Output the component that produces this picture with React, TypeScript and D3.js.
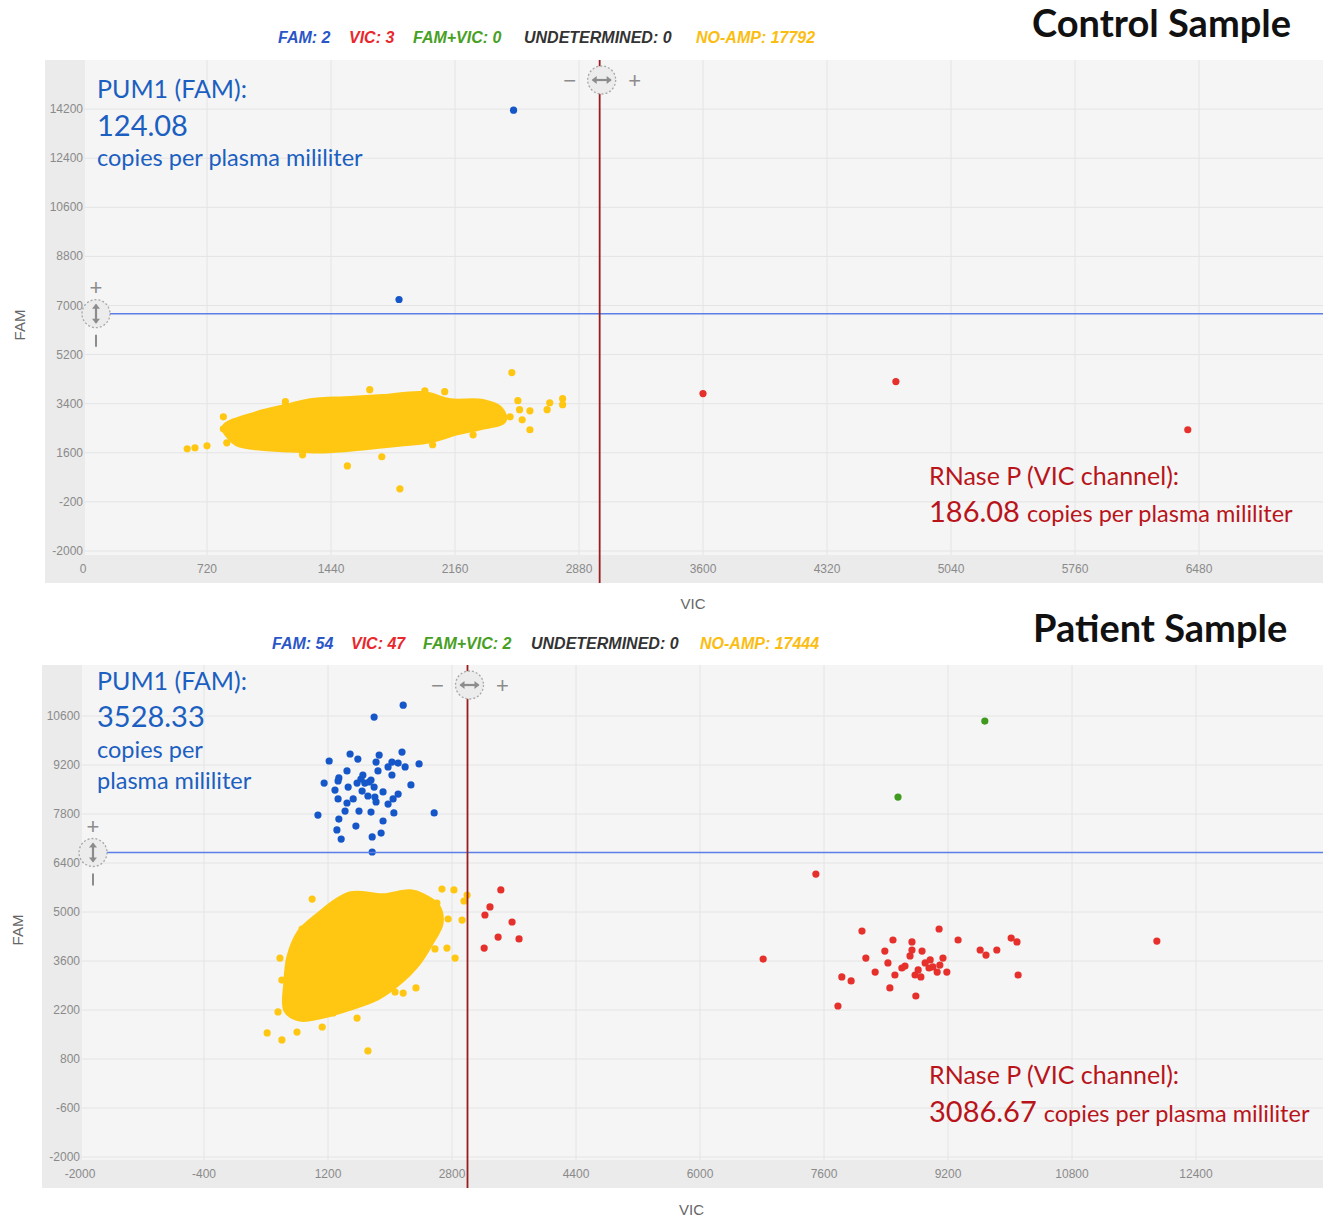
import { useEffect, useRef } from "react";
import * as d3 from "d3";

// ---- data (VIC, FAM) ----
const TOP_X_TICKS = [0, 720, 1440, 2160, 2880, 3600, 4320, 5040, 5760, 6480];
const TOP_Y_TICKS = [-2000, -200, 1600, 3400, 5200, 7000, 8800, 10600, 12400, 14200];
const BOT_X_TICKS = [-2000, -400, 1200, 2800, 4400, 6000, 7600, 9200, 10800, 12400];
const BOT_Y_TICKS = [-2000, -600, 800, 2200, 3600, 5000, 6400, 7800, 9200, 10600];

const TOP_COUNTS = [
  { label: "FAM: 2", key: "fam" },
  { label: "VIC: 3", key: "vic" },
  { label: "FAM+VIC: 0", key: "both" },
  { label: "UNDETERMINED: 0", key: "und" },
  { label: "NO-AMP: 17792", key: "noamp" },
];
const BOT_COUNTS = [
  { label: "FAM: 54", key: "fam" },
  { label: "VIC: 47", key: "vic" },
  { label: "FAM+VIC: 2", key: "both" },
  { label: "UNDETERMINED: 0", key: "und" },
  { label: "NO-AMP: 17444", key: "noamp" },
];

// dense no-amp cloud, traced as its outline of droplet centres
const TOP_NOAMP_OUTLINE: [number, number][] = [
  [825, 2520], [1010, 3000], [1200, 3290], [1320, 3470], [1550, 3550], [1740, 3620],
  [1975, 3730], [2130, 3470], [2320, 3440], [2420, 3180], [2440, 2810], [2305, 2555],
  [2170, 2370], [2015, 2080], [1860, 1970], [1625, 1820], [1395, 1710], [1200, 1745],
  [1010, 1820], [895, 1970], [855, 2190],
];
const TOP_NOAMP_POINTS: [number, number][] = [
  [605, 1745], [650, 1785], [720, 1855], [815, 2920], [815, 2480], [835, 1965],
  [1175, 3475], [1175, 3325], [1665, 3915], [1985, 3875], [2100, 3840], [2490, 4540],
  [2525, 3510], [2535, 3180], [2550, 2810], [2595, 3140], [2595, 2445], [2695, 3180],
  [2710, 3435], [2785, 3585], [2785, 3365], [1535, 1120], [1735, 1455], [1840, 280],
  [1275, 1525], [2030, 1895], [2265, 2260], [2480, 2920], [2410, 2700],
];
const TOP_FAM: [number, number][] = [[2500, 14160], [1835, 7220]];
const TOP_VIC: [number, number][] = [[3600, 3770], [4720, 4210], [6415, 2445]];
const TOP_BOTH: [number, number][] = [];

const BOT_NOAMP_OUTLINE: [number, number][] = [
  [1060, 4855], [1485, 5485], [1910, 5430], [2260, 5545], [2425, 5430], [2605, 5145],
  [2645, 4685], [2515, 4115], [2350, 3545], [2090, 2970], [1830, 2570], [1485, 2285],
  [1135, 2055], [840, 1970], [670, 2200], [670, 2970], [710, 3715], [840, 4400],
];
const BOT_NOAMP_POINTS: [number, number][] = [
  [415, 1545], [605, 1345], [800, 1570], [1715, 1030], [1575, 1970], [995, 5370],
  [2670, 5655], [2825, 5630], [2995, 5485], [2955, 5315], [2930, 4770], [2750, 4800],
  [2840, 3685], [2735, 3970], [2580, 3945], [2335, 2830], [2170, 2685], [2065, 2715],
  [605, 3055], [580, 3685], [865, 4515], [555, 2145], [1125, 1715], [1265, 2115],
  [2475, 4970], [2605, 5255],
];
const BOT_FAM: [number, number][] = [
  [2170, 10910], [1795, 10570], [1485, 9515], [1215, 9315], [1585, 9370], [1860, 9485],
  [2155, 9570], [1820, 9285], [2025, 9285], [2105, 9255], [2195, 9145], [2375, 9230],
  [1975, 9145], [1845, 9030], [1445, 9030], [2025, 8915], [1340, 8830], [1330, 8745],
  [1150, 8685], [1625, 8800], [1755, 8770], [1575, 8685], [1675, 8685], [1460, 8570],
  [1795, 8570], [2270, 8630], [1640, 8455], [1715, 8315], [1805, 8285], [2105, 8370],
  [2040, 8230], [1330, 8230], [1525, 8230], [1445, 8115], [1820, 8145], [1975, 8085],
  [1420, 7885], [1600, 7885], [1755, 7855], [2050, 7830], [1070, 7770], [2570, 7830],
  [1340, 7655], [1910, 7600], [1560, 7455], [1315, 7345], [1885, 7255], [1370, 7085],
  [1770, 7145], [1770, 6715], [1730, 8715], [1650, 8915], [1910, 8430], [1290, 8485],
];
const BOT_VIC: [number, number][] = [
  [3430, 5630], [3290, 5145], [3225, 4915], [3395, 4285], [3575, 4715], [3665, 4230],
  [3215, 3970], [7495, 6085], [6815, 3655], [11895, 4170],
  [8090, 4455], [7780, 2315], [7830, 3145], [7950, 3030], [8140, 3685], [8260, 3285],
  [8425, 3545], [8385, 3885], [8450, 2830], [8490, 4200], [8735, 4145], [8785, 2600],
  [8815, 3345], [8850, 3145], [8645, 3455], [8710, 3745], [8865, 3885], [8905, 3545],
  [8970, 3630], [9005, 3430], [9060, 3285], [9085, 4515], [9135, 3685], [9185, 3285],
  [9330, 4200], [9615, 3915], [9690, 3770], [9830, 3915], [10015, 4255], [10090, 4145],
  [10105, 3200], [8775, 3200], [8955, 3400], [8605, 3400], [9095, 3485], [8735, 3915],
  [8515, 3200],
];
const BOT_BOTH: [number, number][] = [[9675, 10455], [8555, 8285]];

const TOP_THRESHOLD = { vic: 3000, fam: 6700 };
const BOT_THRESHOLD = { vic: 3000, fam: 6700 };

// ---- look ----
const COLORS = {
  fam: "#1556c9",
  vic: "#e5302c",
  both: "#3f9a1e",
  noamp: "#ffc712",
  famText: "#1b5fc0",
  vicText: "#b8141a",
  plotBg: "#f5f5f5",
  axisBg: "#ebebeb",
  grid: "#e4e4e4",
  tick: "#8a8a8a",
  handle: "#8c8c8c",
};
const LEGEND_COLORS: Record<string, string> = {
  fam: "#2a56c8",
  vic: "#e8282c",
  both: "#47a023",
  und: "#333333",
  noamp: "#fbbd12",
};

const PANELS = [
  {
    box: { x0: 45, y0: 60, x1: 1323, y1: 583, axisW: 40, axisH: 28 },
    xDomain: [0, 7200], xRange: [83, 1323],
    yDomain: [-2000, 16000], yRange: [551, 60],
    xTicks: TOP_X_TICKS, yTicks: TOP_Y_TICKS,
    counts: TOP_COUNTS, countX: [278, 349, 413, 524, 696], countY: 43,
    title: "Control Sample", titleX: 1032, titleY: 37,
    outline: TOP_NOAMP_OUTLINE, noamp: TOP_NOAMP_POINTS,
    fam: TOP_FAM, vic: TOP_VIC, both: TOP_BOTH, threshold: TOP_THRESHOLD,
    famNote: ["PUM1 (FAM):", "124.08", "copies per plasma mililiter"],
    famNoteY: [98, 136, 166],
    vicNote: ["RNase P (VIC channel):", "186.08", "copies per plasma mililiter"],
    vicNoteY: [485, 522],
    vicLabelY: 609, famLabel: { x: 20, y: 325 },
  },
  {
    box: { x0: 42, y0: 665, x1: 1323, y1: 1188, axisW: 40, axisH: 28 },
    xDomain: [-2000, 14000], xRange: [80, 1320],
    yDomain: [-2000, 12000], yRange: [1157, 667],
    xTicks: BOT_X_TICKS, yTicks: BOT_Y_TICKS,
    counts: BOT_COUNTS, countX: [272, 351, 423, 531, 700], countY: 649,
    title: "Patient Sample", titleX: 1033, titleY: 642,
    outline: BOT_NOAMP_OUTLINE, noamp: BOT_NOAMP_POINTS,
    fam: BOT_FAM, vic: BOT_VIC, both: BOT_BOTH, threshold: BOT_THRESHOLD,
    famNote: ["PUM1 (FAM):", "3528.33", "copies per", "plasma mililiter"],
    famNoteY: [690, 727, 758, 789],
    vicNote: ["RNase P (VIC channel):", "3086.67", "copies per plasma mililiter"],
    vicNoteY: [1084, 1122],
    vicLabelY: 1215, famLabel: { x: 18, y: 930 },
  },
];

const NOTE_FONT = "Lato, 'Open Sans', sans-serif";
const TICK_FONT = "'Liberation Sans', Arial, sans-serif";
const DOT_R = 3.6;

function drawHandle(g, cx, cy, vertical) {
  const h = g.append("g").attr("transform", `translate(${cx},${cy})`);
  h.append("circle")
    .attr("r", 14)
    .attr("fill", "#ececec")
    .attr("stroke", "#a8a8a8")
    .attr("stroke-width", 1.3)
    .attr("stroke-dasharray", "2 2");
  const rot = vertical ? 90 : 0;
  const a = h.append("g").attr("transform", `rotate(${rot})`);
  a.append("line").attr("x1", -9).attr("x2", 9).attr("stroke", COLORS.handle).attr("stroke-width", 2.2);
  a.append("path").attr("d", "M-10,0 L-5,-4 L-5,4 Z").attr("fill", COLORS.handle);
  a.append("path").attr("d", "M10,0 L5,-4 L5,4 Z").attr("fill", COLORS.handle);
}

function drawPanel(svg, p) {
  const { box } = p;
  const x = d3.scaleLinear().domain(p.xDomain).range(p.xRange);
  const y = d3.scaleLinear().domain(p.yDomain).range(p.yRange);
  const g = svg.append("g");

  // background + axis strips
  g.append("rect").attr("x", box.x0).attr("y", box.y0)
    .attr("width", box.x1 - box.x0).attr("height", box.y1 - box.y0)
    .attr("fill", COLORS.plotBg);
  g.append("rect").attr("x", box.x0).attr("y", box.y0)
    .attr("width", box.axisW).attr("height", box.y1 - box.y0 - box.axisH)
    .attr("fill", COLORS.axisBg);
  g.append("rect").attr("x", box.x0).attr("y", box.y1 - box.axisH)
    .attr("width", box.x1 - box.x0).attr("height", box.axisH)
    .attr("fill", COLORS.axisBg);

  const plotX0 = box.x0 + box.axisW;
  const plotY1 = box.y1 - box.axisH;
  const clipId = `clip-${box.y0}`;
  svg.append("defs").append("clipPath").attr("id", clipId)
    .append("rect").attr("x", plotX0).attr("y", box.y0)
    .attr("width", box.x1 - plotX0).attr("height", plotY1 - box.y0);

  // grid
  const grid = g.append("g").attr("clip-path", `url(#${clipId})`);
  p.xTicks.forEach((t) => {
    grid.append("line").attr("x1", x(t)).attr("x2", x(t))
      .attr("y1", box.y0).attr("y2", plotY1)
      .attr("stroke", COLORS.grid).attr("stroke-width", 1);
  });
  p.yTicks.forEach((t) => {
    grid.append("line").attr("x1", plotX0).attr("x2", box.x1)
      .attr("y1", y(t)).attr("y2", y(t))
      .attr("stroke", COLORS.grid).attr("stroke-width", 1);
  });

  // tick labels
  p.xTicks.forEach((t) => {
    g.append("text").attr("x", x(t)).attr("y", box.y1 - box.axisH / 2 + 4)
      .attr("text-anchor", "middle").attr("font-family", TICK_FONT)
      .attr("font-size", 12).attr("fill", COLORS.tick).text(t);
  });
  p.yTicks.forEach((t) => {
    g.append("text").attr("x", p.xRange[0]).attr("y", y(t) + 4)
      .attr("text-anchor", "end").attr("font-family", TICK_FONT)
      .attr("font-size", 12).attr("fill", COLORS.tick).text(t);
  });

  // droplets
  const marks = g.append("g").attr("clip-path", `url(#${clipId})`);
  const outline = d3.line()
    .x((d) => x(d[0]))
    .y((d) => y(d[1]))
    .curve(d3.curveCatmullRomClosed.alpha(0.5));
  marks.append("path").attr("d", outline(p.outline))
    .attr("fill", COLORS.noamp).attr("stroke", COLORS.noamp)
    .attr("stroke-width", DOT_R * 2).attr("stroke-linejoin", "round");
  const dots = (data, color) => {
    marks.append("g").selectAll("circle").data(data).join("circle")
      .attr("cx", (d) => x(d[0])).attr("cy", (d) => y(d[1]))
      .attr("r", DOT_R).attr("fill", color);
  };
  dots(p.noamp, COLORS.noamp);
  dots(p.fam, COLORS.fam);
  dots(p.vic, COLORS.vic);
  dots(p.both, COLORS.both);

  // thresholds
  const tx = x(p.threshold.vic);
  const ty = y(p.threshold.fam);
  g.append("line").attr("x1", plotX0).attr("x2", box.x1).attr("y1", ty).attr("y2", ty)
    .attr("stroke", "#5b7fe6").attr("stroke-width", 1.6);
  g.append("line").attr("x1", tx).attr("x2", tx).attr("y1", box.y0).attr("y2", box.y1)
    .attr("stroke", "#9b1c1c").attr("stroke-width", 1.8);

  drawHandle(g, tx + 2, box.y0 + 20, false);
  drawHandle(g, box.x0 + 51, ty, true);
  const sym = (sx, sy, s) =>
    g.append("text").attr("x", sx).attr("y", sy).attr("text-anchor", "middle")
      .attr("font-family", TICK_FONT).attr("font-size", 22).attr("fill", COLORS.handle).text(s);
  sym(tx - 30, box.y0 + 28, "−");
  sym(tx + 35, box.y0 + 28, "+");
  sym(box.x0 + 51, ty - 19, "+");
  g.append("line").attr("x1", box.x0 + 51).attr("x2", box.x0 + 51)
    .attr("y1", ty + 21).attr("y2", ty + 33)
    .attr("stroke", COLORS.handle).attr("stroke-width", 2);

  // counts legend
  p.counts.forEach((c, i) => {
    svg.append("text").attr("x", p.countX[i]).attr("y", p.countY)
      .attr("font-family", TICK_FONT).attr("font-size", 16)
      .attr("font-style", "italic").attr("font-weight", "bold")
      .attr("fill", LEGEND_COLORS[c.key]).text(c.label);
  });

  // title
  svg.append("text").attr("x", p.titleX).attr("y", p.titleY)
    .attr("font-family", NOTE_FONT).attr("font-weight", "bold")
    .attr("font-size", 38).attr("fill", "#111").text(p.title);

  // axis titles
  svg.append("text").attr("x", (box.x0 + box.x1) / 2 + 9).attr("y", p.vicLabelY)
    .attr("text-anchor", "middle").attr("font-family", TICK_FONT)
    .attr("font-size", 15).attr("fill", "#666").text("VIC");
  svg.append("text")
    .attr("transform", `translate(${p.famLabel.x + 5},${p.famLabel.y}) rotate(-90)`)
    .attr("text-anchor", "middle").attr("font-family", TICK_FONT)
    .attr("font-size", 15).attr("fill", "#666").text("FAM");

  // annotations
  const famSizes = [25, 29, 23.5, 23.5];
  p.famNote.forEach((s, i) => {
    svg.append("text").attr("x", 97).attr("y", p.famNoteY[i])
      .attr("font-family", NOTE_FONT).attr("font-size", famSizes[i])
      .attr("fill", COLORS.famText).text(s);
  });
  svg.append("text").attr("x", 929).attr("y", p.vicNoteY[0])
    .attr("font-family", NOTE_FONT).attr("font-size", 25)
    .attr("fill", COLORS.vicText).text(p.vicNote[0]);
  const line2 = svg.append("text").attr("x", 929).attr("y", p.vicNoteY[1])
    .attr("font-family", NOTE_FONT).attr("fill", COLORS.vicText);
  line2.append("tspan").attr("font-size", 29).text(p.vicNote[1]);
  line2.append("tspan").attr("font-size", 23.5).attr("dx", 7).text(p.vicNote[2]);
}

export default function App() {
  const ref = useRef<SVGSVGElement | null>(null);

  useEffect(() => {
    const node = ref.current;
    if (!node) return;
    const svg = d3.select(node);
    svg.selectAll("*").remove();
    PANELS.forEach((p) => drawPanel(svg, p));
  }, []);

  return (
    <svg
      ref={ref}
      width={1325}
      height={1218}
      style={{ position: "absolute", left: 0, top: 0, background: "#fff" }}
    />
  );
}
